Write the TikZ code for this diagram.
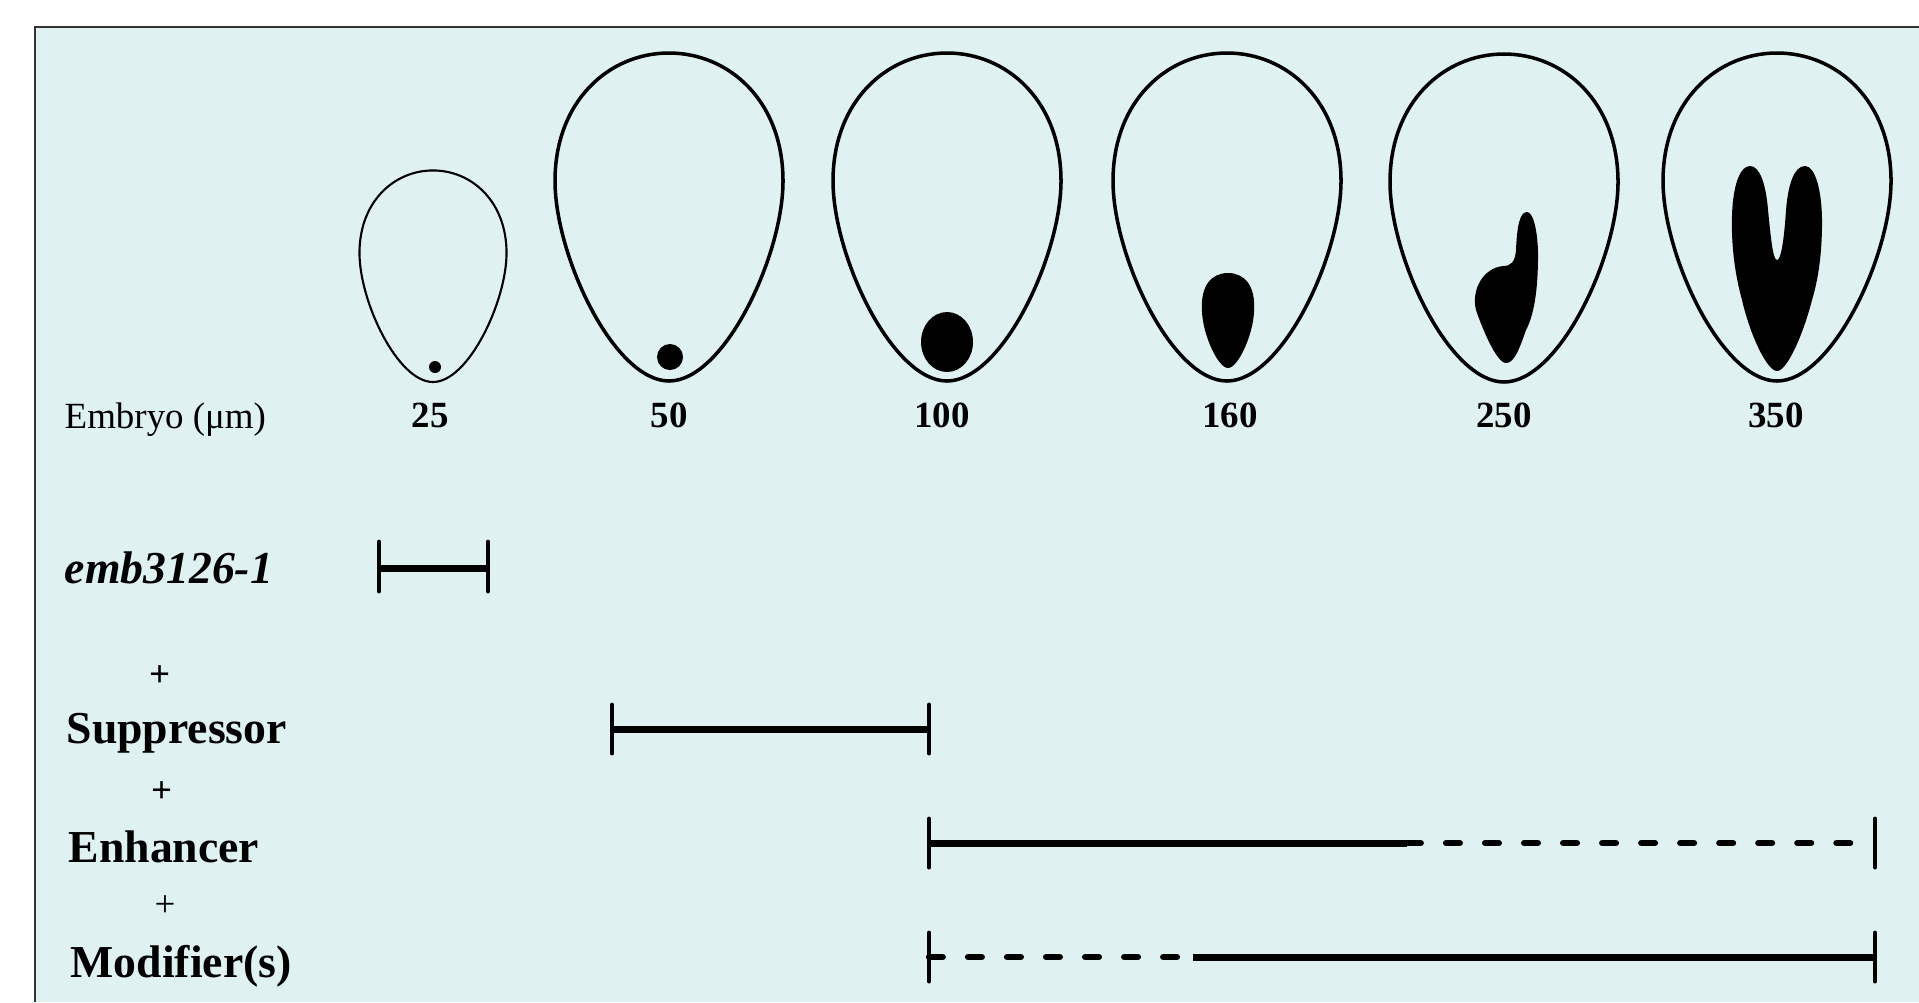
\documentclass[tikz,border=0pt]{standalone}
\usepackage{fontspec}
\setmainfont{Liberation Serif}

\definecolor{panel}{HTML}{DFF1F1}
\definecolor{frame}{HTML}{333333}

\tikzset{
  bar/.style={line width=2pt},
  dashbar/.style={line width=1.8pt, line cap=round, dash pattern=on 3.9pt off 7.2pt},
  tick/.style={line width=1.4pt, line cap=round},
  gene/.style={anchor=base west, inner sep=0pt, font=\fontsize{13}{15}\selectfont\bfseries},
  stage/.style={anchor=base, inner sep=0pt, font=\fontsize{10.5}{12}\selectfont\bfseries},
  plus/.style={inner sep=0pt, font=\fontsize{10.5}{12}\selectfont},
  seed/.pic={
    \draw (0,0) .. controls (55,0) and (114,-125) .. (114,-200)
      .. controls (114,-280) and (60,-328) .. (0,-328)
      .. controls (-60,-328) and (-114,-280) .. (-114,-200)
      .. controls (-114,-125) and (-55,0) .. (0,0) -- cycle;
  }
}

\begin{document}
\begin{tikzpicture}[x=0.01cm, y=-0.01cm]
\useasboundingbox (0,0) rectangle (1919,1002);
\fill[panel] (35,27) rectangle (1919,1002);
\draw[frame, line width=0.6pt] (35,1002) -- (35,27) -- (1919,27);

% seeds
\pic[scale=0.645, line width=0.6pt] at (433,382) {seed};
\pic[line width=1pt] at (669,381) {seed};
\pic[line width=1pt] at (947,381) {seed};
\pic[line width=1pt] at (1227,381) {seed};
\pic[line width=1pt] at (1504,382) {seed};
\pic[line width=1pt] at (1777,381) {seed};

% embryos
\fill (435,367) circle (6);
\fill (670,357) circle (13);
\fill (947,342) ellipse (26 and 30);
\fill (1228,368) .. controls (1218,368) and (1203,335) .. (1202,312)
  .. controls (1200,285) and (1212,273) .. (1228,273)
  .. controls (1244,273) and (1256,285) .. (1254,312)
  .. controls (1253,335) and (1238,368) .. (1228,368) -- cycle;
\fill (1506,363) .. controls (1496,363) and (1481,325) .. (1476,310)
  .. controls (1471,290) and (1483,268) .. (1503,266)
  .. controls (1511,266) and (1515,262) .. (1516,250)
  .. controls (1517,225) and (1520,212) .. (1527,212)
  .. controls (1534,212) and (1538,235) .. (1538,255)
  .. controls (1538,290) and (1534,315) .. (1526,330)
  .. controls (1519,350) and (1514,363) .. (1506,363) -- cycle;
\fill (1777,371) .. controls (1767,371) and (1750,335) .. (1742,300)
  .. controls (1735,275) and (1731,245) .. (1732,215)
  .. controls (1733,185) and (1740,166) .. (1750,166)
  .. controls (1760,166) and (1766,185) .. (1768,210)
  .. controls (1771,240) and (1773,260) .. (1777,260)
  .. controls (1781,260) and (1784,240) .. (1786,210)
  .. controls (1788,185) and (1794,166) .. (1805,166)
  .. controls (1815,166) and (1822,190) .. (1822,222)
  .. controls (1822,255) and (1818,280) .. (1812,300)
  .. controls (1803,335) and (1787,371) .. (1777,371) -- cycle;

% sizes
\node[anchor=base west, inner sep=0pt, font=\fontsize{10.5}{12}\selectfont] (embryo) at (64,428) {Embryo (μm)};
\node[stage] (s25) at (430,427) {25};
\node[stage] (s50) at (669,427) {50};
\node[stage] (s100) at (942,427) {100};
\node[stage] (s160) at (1230,427) {160};
\node[stage] (s250) at (1504,427) {250};
\node[stage] (s350) at (1776,427) {350};

% genotypes
\node[gene, font=\fontsize{13}{15}\selectfont\bfseries\itshape] (emb) at (64,583) {emb3126-1};
\node[plus, font=\fontsize{10.5}{12}\selectfont\bfseries] (plusa) at (160,676) {+};
\node[gene] (sup) at (66,743) {Suppressor};
\node[plus, font=\fontsize{10.5}{12}\selectfont\bfseries] (plusb) at (162,792) {+};
\node[gene] (enh) at (68,862) {Enhancer};
\node[plus] (plusc) at (165,906) {+};
\node[gene] (mod) at (70,977) {Modifier(s)};

% arrest ranges
\coordinate (emb-a) at (379,568);
\coordinate (emb-b) at (488,568);
\coordinate (sup-a) at (612,729);
\coordinate (sup-b) at (929,729);
\coordinate (enh-a) at (929,843);
\coordinate (enh-m) at (1407,843);
\coordinate (enh-b) at (1875,843);
\coordinate (mod-a) at (929,957);
\coordinate (mod-m) at (1193,957);
\coordinate (mod-b) at (1875,957);

\draw[bar] (emb-a) -- (emb-b);
\draw[tick] ([yshift=0.26cm]emb-a) -- ([yshift=-0.23cm]emb-a);
\draw[tick] ([yshift=0.26cm]emb-b) -- ([yshift=-0.23cm]emb-b);

\draw[bar] (sup-a) -- (sup-b);
\draw[tick] ([yshift=0.24cm]sup-a) -- ([yshift=-0.24cm]sup-a);
\draw[tick] ([yshift=0.24cm]sup-b) -- ([yshift=-0.24cm]sup-b);

\draw[bar] (enh-a) -- (enh-m);
\draw[dashbar] (enh-m) -- ([xshift=-0.12cm]enh-b);
\draw[tick] ([yshift=0.24cm]enh-a) -- ([yshift=-0.24cm]enh-a);
\draw[tick] ([yshift=0.24cm]enh-b) -- ([yshift=-0.24cm]enh-b);

\draw[dashbar] (mod-a) -- (mod-m);
\draw[bar] (mod-m) -- (mod-b);
\draw[tick] ([yshift=0.24cm]mod-a) -- ([yshift=-0.24cm]mod-a);
\draw[tick] ([yshift=0.24cm]mod-b) -- ([yshift=-0.24cm]mod-b);
\end{tikzpicture}
\end{document}
